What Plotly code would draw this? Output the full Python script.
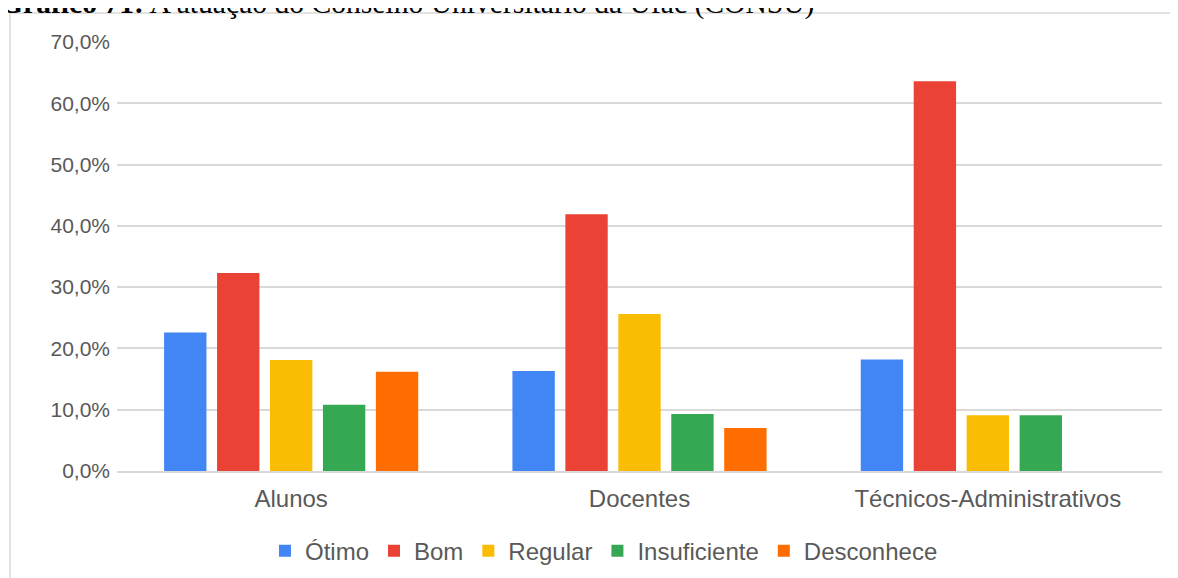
import plotly.graph_objects as go

# dados
grupos = ["Alunos", "Docentes", "Técnicos-Administrativos"]
otimo = [22.6, 16.3, 18.2]
bom = [32.3, 41.9, 63.6]
regular = [18.1, 25.6, 9.1]
insuficiente = [10.8, 9.3, 9.1]
desconhece = [16.2, 7.0, 0.0]

series = [
    ("Ótimo", otimo, "#4285F4"),
    ("Bom", bom, "#EA4335"),
    ("Regular", regular, "#FBBC04"),
    ("Insuficiente", insuficiente, "#34A853"),
    ("Desconhece", desconhece, "#FF6D01"),
]

y_ticks = [0, 10, 20, 30, 40, 50, 60, 70]
y_labels = [f"{v:.1f}%".replace(".", ",") for v in y_ticks]

fig = go.Figure()
for nome, valores, cor in series:
    fig.add_trace(go.Bar(
        x=grupos,
        y=valores,
        name=nome,
        marker=dict(color=cor, line=dict(width=0)),
    ))

FONTE = "Liberation Sans, Arial, sans-serif"
CINZA = "#595959"

# a página tem 8px de margem no body, por isso 1170x570
fig.update_layout(
    width=1170,
    height=570,
    margin=dict(l=109, r=16, t=34, b=107),
    plot_bgcolor="white",
    paper_bgcolor="white",
    barmode="group",
    bargap=0.24,
    bargroupgap=0.2,
    font=dict(family=FONTE, size=21, color=CINZA),
    legend=dict(
        orientation="h",
        xref="paper", x=0.466, xanchor="center",
        yref="container", y=0.047, yanchor="middle",
        font=dict(size=24, color=CINZA),
        itemwidth=30,
        tracegroupgap=0,
    ),
    showlegend=True,
)

fig.update_yaxes(
    range=[0, 70],
    tickvals=y_ticks,
    ticktext=y_labels,
    showgrid=True,
    gridcolor="#d9d9d9",
    gridwidth=1.5,
    zeroline=False,
    showline=False,
    ticklabelstandoff=6,
    tickfont=dict(size=21, color=CINZA),
)
fig.update_xaxes(
    showline=True,
    linecolor="#d9d9d9",
    linewidth=1.5,
    ticks="",
    ticklabelstandoff=5,
    tickfont=dict(size=24, color=CINZA),
)

# borda da área do gráfico
fig.add_shape(
    type="rect", xref="paper", yref="paper",
    x0=-0.1024, x1=1.03, y0=-0.30, y1=1.0676,
    line=dict(color="#d9d9d9", width=1.5),
    fillcolor="rgba(0,0,0,0)",
    layer="below",
)

# título (cortado no topo, como no original)
fig.add_annotation(
    text="<b>Gráfico 71:</b> A atuação do Conselho Universitário da Ufac (CONSU)",
    xref="paper", yref="paper",
    x=-0.1135, xanchor="left",
    y=1.0886, yanchor="middle",
    showarrow=False,
    font=dict(family="Liberation Serif, Times New Roman, serif", size=29.6, color="black"),
)

fig.write_html("out.html")
